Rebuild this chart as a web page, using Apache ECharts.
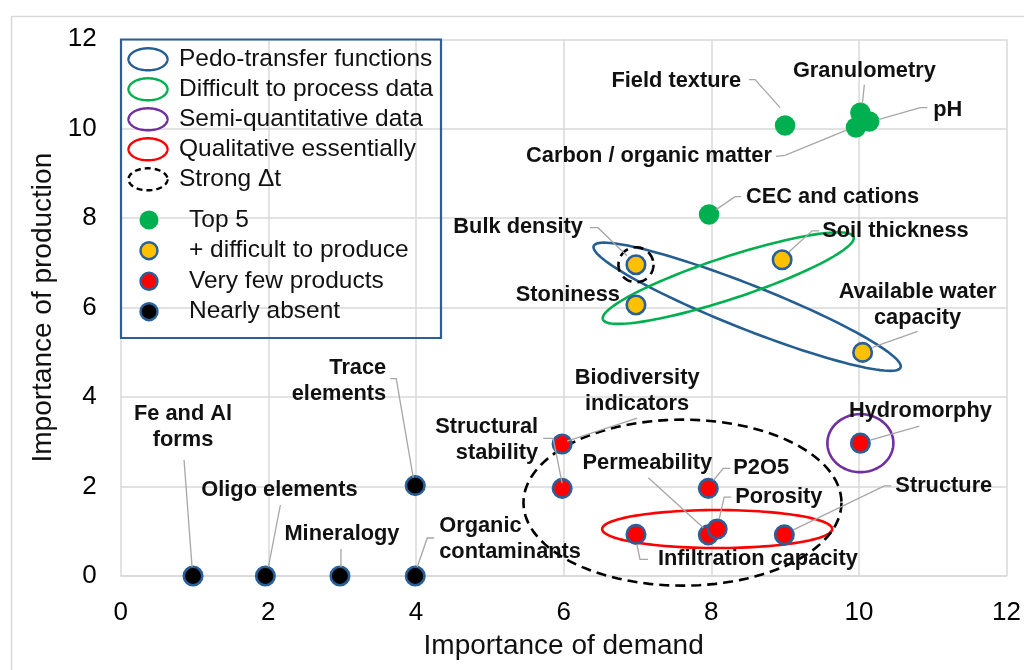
<!DOCTYPE html>
<html><head><meta charset="utf-8">
<script src="https://cdn.jsdelivr.net/npm/echarts@6/dist/echarts.min.js"></script>
<style>html,body{margin:0;padding:0;background:#fff}#c{width:1024px;height:670px}</style>
</head><body><div id="c"></div>
<script>
// ---------- data ----------
const top5Names = ['Field texture', 'Granulometry', 'pH', 'Carbon / organic matter', 'CEC and cations'];
const top5Demand = [9, 10.02, 10.14, 9.96, 7.97];
const top5Production = [10.07, 10.36, 10.16, 10.03, 8.08];

const hardNames = ['Bulk density', 'Soil thickness', 'Stoniness', 'Available water\ncapacity'];
const hardDemand = [6.98, 8.96, 6.98, 10.05];
const hardProduction = [6.96, 7.07, 6.06, 5.0];

const fewNames = ['Biodiversity\nindicators', 'Structural\nstability', 'Infiltration capacity', 'Permeability', 'Porosity', 'Structure', 'P2O5', 'Hydromorphy'];
const fewDemand = [5.98, 5.98, 6.98, 7.96, 8.08, 8.99, 7.96, 10.02];
const fewProduction = [2.95, 1.96, 0.93, 0.92, 1.05, 0.92, 1.96, 2.97];

const absentNames = ['Fe and Al\nforms', 'Oligo elements', 'Mineralogy', 'Organic\ncontaminants', 'Trace\nelements'];
const absentDemand = [0.98, 1.96, 2.97, 3.99, 3.99];
const absentProduction = [0, 0, 0, 0, 2.02];

const pointClassNames = ['Top 5', '+ difficult to produce', 'Very few products', 'Nearly absent'];
const groupNames = ['Pedo-transfer functions', 'Difficult to process data', 'Semi-quantitative data', 'Qualitative essentially', 'Strong \u0394t'];

// ---------- styling / annotation geometry ----------
const FONT = "'Liberation Sans', Arial, sans-serif";
const BLUE = '#2a6099';
const GRID = '#d9d9d9';
const groupColors = ['#255e91', '#00b050', '#7030a0', '#ff0000', '#000000'];
const pointColors = ['#00b050', '#ffc000', '#ff0000', '#000000'];

// group outlines: centre in data units, radii (px), rotation (deg)
const groupShapes = [
  {g: 0, c: [8.486, 6.02], rx: 165, ry: 22, rot: 21.6},
  {g: 1, c: [8.23, 6.66], rx: 132, ry: 21, rot: -18.2},
  {g: 2, c: [10.02, 2.97], rx: 33, ry: 29, rot: 0},
  {g: 3, c: [8.08, 1.05], rx: 115, ry: 19, rot: 0},
  {g: 4, c: [7.61, 1.64], rx: 159, ry: 83, rot: 0},
  {g: 4, c: [6.98, 6.96], rx: 17.5, ry: 17.5, rot: 0}
];

// label placement relative to the point (px)
const labelPlace = {
  'Field texture': {dx: -44, dy: -45, align: 'right', leader: [[-36, -46], [-30, -46], [-5, -18]]},
  'Granulometry': {dx: 4, dy: -42, align: 'center', leader: [[4, -28], [2, -9]]},
  'pH': {dx: 64, dy: -12, align: 'left', leader: [[58, -14], [51, -14], [9, -2]]},
  'Carbon / organic matter': {dx: -84, dy: 29, align: 'right', leader: [[-80, 29], [-71, 28], [-10, 3]]},
  'CEC and cations': {dx: 37, dy: -18, align: 'left', leader: [[32, -18], [26, -18], [7, -5]]},
  'Bulk density': {dx: -53, dy: -38, align: 'right', leader: [[-46, -37], [-38, -37], [-9, -9]]},
  'Soil thickness': {dx: 40, dy: -29, align: 'left', leader: [[37, -29], [30, -29], [7, -8]]},
  'Stoniness': {dx: -16, dy: -10, align: 'right', leader: null},
  'Available water\ncapacity': {dx: 55, dy: -47, align: 'center', leader: [[55, -21], [10, -5]]},
  'Biodiversity\nindicators': {dx: 75, dy: -53, align: 'center', leader: [[75, -26], [5, -3]]},
  'Structural\nstability': {dx: -24, dy: -48, align: 'right', leader: [[-19, -50], [-9, -50], [0, -5]]},
  'Infiltration capacity': {dx: 22, dy: 25, align: 'left', leader: [[12, 25], [4, 25], [1, 10]]},
  'Permeability': {dx: -61, dy: -72, align: 'center', leader: [[-60, -57], [-5, -7]]},
  'Porosity': {dx: 18, dy: -32, align: 'left', leader: [[14, -32], [7, -32], [2, -10]]},
  'Structure': {dx: 111, dy: -49, align: 'left', leader: [[107, -49], [100, -49], [9, -5]]},
  'P2O5': {dx: 25, dy: -20, align: 'left', leader: [[22, -20], [15, -20], [5, -8]]},
  'Hydromorphy': {dx: 60, dy: -32, align: 'center', leader: [[59, -17], [10, -3]]},
  'Fe and Al\nforms': {dx: -10, dy: -149, align: 'center', leader: [[-9, -116], [-1, -9]]},
  'Oligo elements': {dx: 14, dy: -86, align: 'center', leader: [[15, -71], [3, -9]]},
  'Mineralogy': {dx: 2, dy: -42, align: 'center', leader: [[1, -27], [1, -9]]},
  'Organic\ncontaminants': {dx: 24, dy: -37, align: 'left', leader: [[19, -38], [12, -38], [2, -9]]},
  'Trace\nelements': {dx: -29, dy: -105, align: 'right', leader: [[-25, -107], [-19, -107], [-2, -8]]}
};

function ellipsePts(cx, cy, rx, ry, rotDeg) {
  const r = rotDeg * Math.PI / 180, pts = [];
  for (let i = 0; i < 120; i++) {
    const t = i / 120 * 2 * Math.PI;
    const x = rx * Math.cos(t), y = ry * Math.sin(t);
    pts.push([cx + x * Math.cos(r) - y * Math.sin(r), cy + x * Math.sin(r) + y * Math.cos(r)]);
  }
  return pts;
}

const pts = (xs, ys) => xs.map((x, i) => [x, ys[i]]);
const classes = [
  {names: top5Names, data: pts(top5Demand, top5Production)},
  {names: hardNames, data: pts(hardDemand, hardProduction)},
  {names: fewNames, data: pts(fewDemand, fewProduction)},
  {names: absentNames, data: pts(absentDemand, absentProduction)}
];

const chart = echarts.init(document.getElementById('c'), null, {renderer: 'canvas'});

const series = [{
  type: 'custom', coordinateSystem: 'cartesian2d', silent: true, z: 1,
  data: groupShapes.map(s => s.c), encode: {x: 0, y: 1},
  renderItem: (params, api) => {
    const s = groupShapes[params.dataIndex];
    const c = api.coord([api.value(0), api.value(1)]);
    return {type: 'polygon', shape: {points: ellipsePts(c[0], c[1], s.rx, s.ry, s.rot)},
      style: {fill: 'transparent', stroke: groupColors[s.g], lineWidth: 2.6, lineDash: s.g === 4 ? [10, 6] : null}};
  }
}];
classes.forEach((cl, k) => {
  series.push({
    type: 'scatter', name: pointClassNames[k], data: cl.data, z: 3, silent: true,
    symbolSize: k === 0 ? 20.5 : 18.5,
    itemStyle: {color: pointColors[k], opacity: 1, borderColor: k === 0 ? pointColors[k] : BLUE, borderWidth: k === 0 ? 0 : 2.6}
  });
});

chart.setOption({
  animation: false,
  backgroundColor: '#fff',
  textStyle: {fontFamily: FONT},
  grid: {left: 120.7, right: 17.3, top: 39.3, bottom: 94, containLabel: false},
  xAxis: {
    type: 'value', min: 0, max: 12, interval: 2,
    axisLine: {show: true, lineStyle: {color: GRID, width: 1.5}}, axisTick: {show: false},
    splitLine: {show: true, lineStyle: {color: GRID, width: 1.5}},
    axisLabel: {fontSize: 26, color: '#000', margin: 24, fontFamily: FONT},
    name: 'Importance of demand', nameLocation: 'middle', nameGap: 56,
    nameTextStyle: {fontSize: 28, color: '#111', fontFamily: FONT}
  },
  yAxis: {
    type: 'value', min: 0, max: 12, interval: 2,
    axisLine: {show: false}, axisTick: {show: false},
    splitLine: {show: true, lineStyle: {color: GRID, width: 1.5}},
    axisLabel: {fontSize: 26, color: '#000', margin: 24, fontFamily: FONT},
    name: 'Importance of production', nameLocation: 'middle', nameGap: 56,
    nameTextStyle: {fontSize: 28, color: '#111', fontFamily: FONT}
  },
  series: series
});

// ---------- annotations (labels + leaders) and legend ----------
const g = [];
g.push({type: 'line', shape: {x1: 11.5, y1: 16, x2: 11.5, y2: 670}, style: {stroke: GRID, lineWidth: 1.5}, silent: true});
g.push({type: 'line', shape: {x1: 11, y1: 16.5, x2: 1024, y2: 16.5}, style: {stroke: GRID, lineWidth: 1.5}, silent: true});

classes.forEach(cl => {
  cl.data.forEach((d, i) => {
    const name = cl.names[i];
    const lp = labelPlace[name];
    if (!lp) return;
    const p = chart.convertToPixel({gridIndex: 0}, d);
    if (lp.leader) {
      g.push({type: 'polyline', z: 50, silent: true,
        shape: {points: lp.leader.map(o => [p[0] + o[0], p[1] + o[1]])},
        style: {stroke: '#a6a6a6', lineWidth: 1.3, fill: null}});
    }
    g.push({type: 'text', z: 60, silent: true, x: p[0] + lp.dx, y: p[1] + lp.dy,
      style: {text: name, fill: '#111', fontSize: 21.8, fontWeight: 'bold', fontFamily: FONT,
        align: lp.align, verticalAlign: 'middle', lineHeight: 26}});
  });
});

// legend
g.push({type: 'rect', z: 40, silent: true, shape: {x: 121, y: 39.5, width: 320, height: 298.5},
  style: {fill: 'transparent', stroke: BLUE, lineWidth: 2.2}});
const legRowsA = [59.3, 89.3, 119.3, 149.3, 179.3];
groupNames.forEach((n, i) => {
  g.push({type: 'polygon', z: 41, silent: true, shape: {points: ellipsePts(148, legRowsA[i], 19.5, 11, 0)},
    style: {fill: 'transparent', stroke: groupColors[i], lineWidth: 2.4, lineDash: i === 4 ? [6, 4] : null}});
  g.push({type: 'text', z: 41, silent: true, x: 179, y: legRowsA[i],
    style: {text: n, fill: '#111', fontSize: 24.5, fontFamily: FONT, align: 'left', verticalAlign: 'middle'}});
});
const legRowsB = [220, 250.7, 281.3, 311.7];
pointClassNames.forEach((n, i) => {
  g.push({type: 'circle', z: 41, silent: true, shape: {cx: 149, cy: legRowsB[i], r: i === 0 ? 9.5 : 8.5},
    style: {fill: pointColors[i], stroke: i === 0 ? null : BLUE, lineWidth: i === 0 ? 0 : 2.4}});
  g.push({type: 'text', z: 41, silent: true, x: 189, y: legRowsB[i],
    style: {text: n, fill: '#111', fontSize: 24.5, fontFamily: FONT, align: 'left', verticalAlign: 'middle'}});
});

chart.setOption({graphic: {elements: g}});
</script>
</body></html>
